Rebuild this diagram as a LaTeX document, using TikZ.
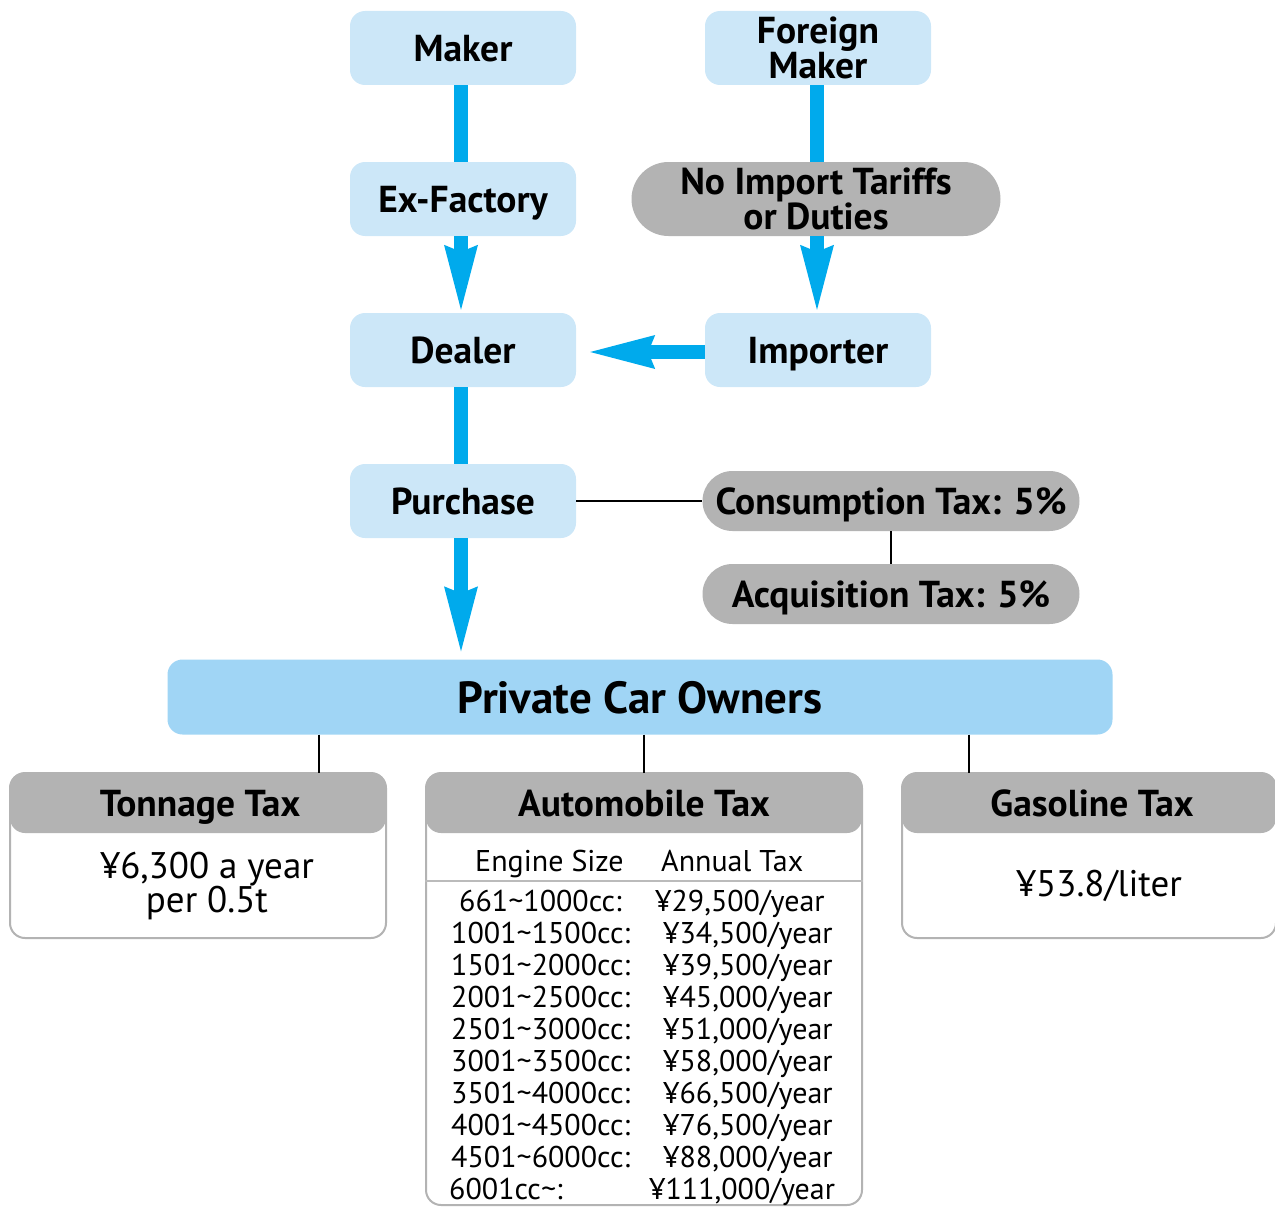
\documentclass[tikz,border=0pt]{standalone}
\usepackage{fontspec}
\setmainfont{PT Sans}
\usetikzlibrary{arrows.meta}
\definecolor{boxblue}{HTML}{CCE7F8}
\definecolor{ownerblue}{HTML}{A0D5F5}
\definecolor{flowblue}{HTML}{00AAEC}
\definecolor{taxgray}{HTML}{B3B3B3}
\definecolor{rulegray}{HTML}{BBBBBB}

\tikzset{
  oneline/.style={text height=27pt, text depth=0pt},
  stage/.style={rectangle, rounded corners=15pt, fill=boxblue, minimum width=226pt,
    minimum height=74pt, align=center, inner sep=0pt,
    font=\fontsize{37.5}{35}\selectfont\bfseries},
  pill/.style={rectangle, rounded corners=30pt, fill=taxgray, minimum width=377pt,
    minimum height=60pt, align=center, inner sep=0pt,
    font=\fontsize{37.5}{34}\selectfont\bfseries},
  taxbody/.style={rectangle, rounded corners=15pt, draw=taxgray, line width=2pt,
    fill=white, inner sep=0pt},
  taxhead/.style={rectangle, rounded corners=15pt, fill=taxgray, minimum height=60pt,
    inner sep=0pt, oneline, font=\fontsize{37.5}{35}\selectfont\bfseries},
  amount/.style={align=center, inner sep=0pt, font=\fontsize{37}{33}\selectfont},
  cell/.style={inner sep=0pt, anchor=base west, font=\fontsize{30}{32}\selectfont},
  shaft/.style={draw=flowblue, line width=14pt},
  flow/.style={shaft, -{Stealth[length=65pt, width=34pt, inset=7pt, line width=0pt]}},
  link/.style={draw=black, line width=2pt}
}

\begin{document}
\begin{tikzpicture}[x=1pt, y=-1pt]
\useasboundingbox (0,0) rectangle (1275,1207);

% supply chain
\node[stage, oneline] (maker)    at (463,48)  {Maker};
\node[stage]          (foreign)  at (818,48)  {Foreign\\Maker};
\node[stage, oneline] (exf)      at (463,199) {Ex-Factory};
\node[pill, minimum width=369pt, minimum height=74pt, rounded corners=37pt]
                      (tariff)   at (816,199) {No Import Tariffs\\or Duties};
\node[stage, oneline] (dealer)   at (463,350) {Dealer};
\node[stage, oneline] (importer) at (818,350) {Importer};
\node[stage, oneline] (purchase) at (463,501) {Purchase};

% purchase taxes
\node[pill, oneline] (consump) at (891,501) {Consumption Tax: 5\%};
\node[pill, oneline] (acquis)  at (891,594) {Acquisition Tax: 5\%};

% owners
\node[rectangle, rounded corners=15pt, fill=ownerblue, minimum width=945pt,
      minimum height=75pt, inner sep=0pt, text height=32pt, text depth=0pt,
      font=\fontsize{45}{47}\selectfont\bfseries]
      (owners) at (640,697) {Private Car Owners};

% flows
\draw[shaft] (maker.south -| 461,0) -- (exf.north -| 461,0);
\draw[flow, shorten >=3pt] (exf.south -| 461,0) -- (dealer.north -| 461,0);
\draw[shaft] (foreign.south -| 817,0) -- (tariff.north -| 817,0);
\draw[flow, shorten >=3pt] (tariff.south -| 817,0) -- (importer.north -| 817,0);
\draw[flow, shorten >=14pt] (importer.west |- 0,352) -- (dealer.east |- 0,352);
\draw[shaft] (dealer.south -| 461,0) -- (purchase.north -| 461,0);
\draw[flow, shorten >=8pt] (purchase.south -| 461,0) -- (owners.north -| 461,0);

% tax links
\draw[link] (purchase.east) -- (consump.west);
\draw[link] (consump.south) -- (acquis.north);

% tonnage tax
\node[taxbody, minimum width=376pt, minimum height=165pt] (tonbody) at (198,855.5) {};
\node[taxhead, minimum width=376pt] (tonhead) at (198,803) {\hspace*{4pt}Tonnage Tax};
\node[amount] (tonval) at (207,886) {¥6,300 a year\\per 0.5t};

% automobile tax
\node[taxbody, minimum width=436pt, minimum height=432pt] (autobody) at (644,989) {};
\node[taxhead, minimum width=436pt] (autohead) at (644,803) {Automobile Tax};
\draw[rulegray, line width=2pt] (autobody.west |- 0,881) -- (autobody.east |- 0,881);
\node[cell] (hsize) at (475,871) {Engine Size};
\node[cell] (htax)  at (661,871) {Annual Tax};
\foreach \size/\tax/\sx/\tx [count=\i from 0] in {
  661\textasciitilde1000cc:/¥29{,}500\slash year/459/655,
  1001\textasciitilde1500cc:/¥34{,}500\slash year/451/663,
  1501\textasciitilde2000cc:/¥39{,}500\slash year/451/663,
  2001\textasciitilde2500cc:/¥45{,}000\slash year/451/663,
  2501\textasciitilde3000cc:/¥51{,}000\slash year/451/663,
  3001\textasciitilde3500cc:/¥58{,}000\slash year/451/663,
  3501\textasciitilde4000cc:/¥66{,}500\slash year/451/663,
  4001\textasciitilde4500cc:/¥76{,}500\slash year/451/663,
  4501\textasciitilde6000cc:/¥88{,}000\slash year/451/663,
  6001cc\textasciitilde:/¥111{,}000\slash year/449/649}{
  \node[cell] (size\i) at (\sx,911+32*\i) {\size};
  \node[cell] (tax\i)  at (\tx,911+32*\i) {\tax};
}

% gasoline tax
\node[taxbody, minimum width=374pt, minimum height=165pt] (gasbody) at (1089,855.5) {};
\node[taxhead, minimum width=374pt] (gashead) at (1089,803) {\hspace*{6pt}Gasoline Tax};
\node[amount] (gasval) at (1099,886) {¥53.8/liter};

% owner links
\coordinate (tlink) at (319,773);
\coordinate (alink) at (644,773);
\coordinate (glink) at (969,773);
\draw[link] (owners.south -| tlink) -- (tlink);
\draw[link] (owners.south -| alink) -- (alink);
\draw[link] (owners.south -| glink) -- (glink);
\end{tikzpicture}
\end{document}
